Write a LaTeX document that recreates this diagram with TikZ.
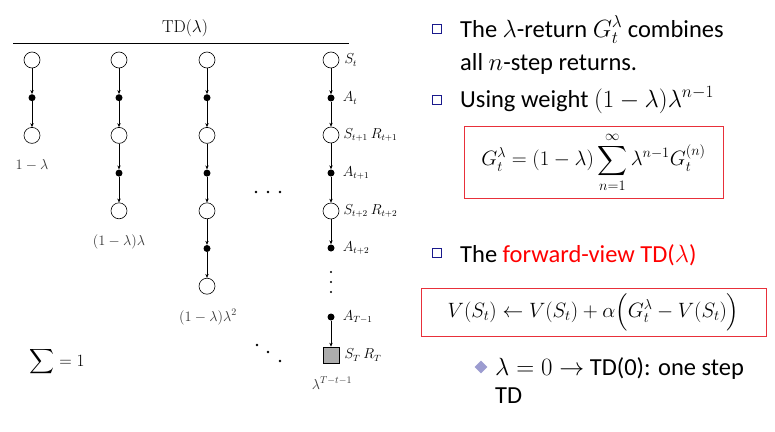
\documentclass[tikz,border=0pt]{standalone}
\usepackage{amsmath}
\usepackage[no-math]{fontspec}
\setmainfont{Carlito}
\usepackage{tikz}
\usetikzlibrary{arrows.meta,positioning,shapes.geometric}
\definecolor{navyblue}{HTML}{1A1A8C}
\definecolor{lavender}{HTML}{9C9CD0}
\definecolor{boxred}{HTML}{E8303A}

\begin{document}
\begin{tikzpicture}[x=1pt,y=-1pt,
		state/.style={circle,draw,fill=white,minimum size=16pt,inner sep=0pt,line width=0.6pt},
		act/.style={circle,fill=black,minimum size=7pt,inner sep=0pt},
		term/.style={rectangle,draw,fill=gray!65,minimum size=16pt,inner sep=0pt,line width=0.6pt},
		pt/.style={circle,fill=black,minimum size=2.6pt,inner sep=0pt},
		edge/.style={-{Stealth[length=4pt,width=3.4pt]},line width=0.6pt},
		lbl/.style={font=\fontsize{13.5}{15}\selectfont,inner sep=1pt},
		wgt/.style={font=\fontsize{14}{16}\selectfont,text=black!80},
		txt/.style={font=\fontsize{24.5}{28}\selectfont,anchor=base west,inner sep=0pt},
		sqbul/.style={rectangle,draw=navyblue,line width=1.4pt,minimum size=8.5pt,inner sep=0pt},
		dmbul/.style={diamond,fill=lavender,minimum size=13pt,inner sep=0pt},
		eqbox/.style={draw=boxred,line width=0.8pt,inner sep=0pt},
		]
		\useasboundingbox (0,0) rectangle (775,431);

		% backup diagram
		\node[font=\fontsize{17.5}{20}\selectfont](ttl) at (185,28) {$\mathrm{TD}(\lambda)$};
		\draw[line width=0.7pt] (13,43) -- (349,43);

		\foreach \c/\x/\n in {1/32/2,2/119/4,3/207/6}{
			\foreach \k in {0,...,\n}{
				\pgfmathsetmacro\yy{60+37.7*\k}
				\ifodd\k \node[act](c\c-\k) at (\x,\yy) {}; \else \node[state](c\c-\k) at (\x,\yy) {}; \fi
			}
			\foreach \k [evaluate=\k as \j using int(\k-1)] in {1,...,\n}
				\draw[edge] (c\c-\j) -- (c\c-\k);
		}

		\node[state](s0) at (331,60) {};
		\node[act  ](a0) at (331,98) {};
		\node[state](s1) at (331,135) {};
		\node[act  ](a1) at (331,173) {};
		\node[state](s2) at (331,211) {};
		\node[act  ](a2) at (331,248) {};
		\node[act  ](aT) at (331,317) {};
		\node[term ](sT) at (331,355) {};
		\draw[edge] (s0) -- (a0);
		\draw[edge] (a0) -- (s1);
		\draw[edge] (s1) -- (a1);
		\draw[edge] (a1) -- (s2);
		\draw[edge] (s2) -- (a2);
		\draw[edge] (aT) -- (sT);

		\node[lbl,right=4pt of s0](ls0) {$S_t$};
		\node[lbl,right=7pt of a0](la0) {$A_t$};
		\node[lbl,right=3pt of s1](ls1) {$S_{t+1}\ R_{t+1}$};
		\node[lbl,right=7pt of a1](la1) {$A_{t+1}$};
		\node[lbl,right=3pt of s2](ls2) {$S_{t+2}\ R_{t+2}$};
		\node[lbl,right=7pt of a2](la2) {$A_{t+2}$};
		\node[lbl,right=7pt of aT](laT) {$A_{T-1}$};
		\node[lbl,right=4pt of sT](lsT) {$S_T\ R_T$};

		\node[wgt](w1) at (32,165) {$1-\lambda$};
		\node[wgt](w2) at (119,242) {$(1-\lambda)\lambda$};
		\node[wgt](w3) at (208,317) {$(1-\lambda)\lambda^2$};
		\node[wgt](w4) at (332,383) {$\lambda^{T-t-1}$};

		\foreach \i/\x in {1/256,2/268,3/280} \node[pt](h\i) at (\x,192) {};
		\foreach \i/\x/\y in {1/257/345,2/268/352,3/280/361} \node[pt](d\i) at (\x,\y) {};
		\foreach \i/\y in {1/272,2/282,3/292} \node[pt,minimum size=2.2pt](v\i) at (331,\y) {};

		\node[font=\fontsize{19}{21}\selectfont](sum) at (57,362) {$\displaystyle\sum = 1$};

		% slide text
		\node[sqbul](b1) at (437,29) {};
		\node[txt](t1) at (460,37) {The $\lambda$-return $G_t^\lambda$ combines};
		\node[txt](t2) at (460,70) {all $n$-step returns.};
		\node[sqbul](b2) at (437,100) {};
		\node[txt](t3) at (460,107) {Using weight $(1-\lambda)\lambda^{n-1}$};
		\node[eqbox,minimum width=259pt,minimum height=72pt,font=\fontsize{20.5}{24}\selectfont](e1) at (593.5,162)
			{$\displaystyle G_t^\lambda = (1-\lambda)\sum_{n=1}^{\infty}\lambda^{n-1}G_t^{(n)}$};
		\node[sqbul](b3) at (437,253) {};
		\node[txt](t4) at (460,262) {The \textcolor{red}{forward-view TD($\lambda$)}};
		\node[eqbox,minimum width=345pt,minimum height=48pt,font=\fontsize{22.3}{25}\selectfont](e2) at (593.5,312)
			{$V(S_t) \leftarrow V(S_t) + \alpha\Bigl(G_t^\lambda - V(S_t)\Bigr)$};
		\node[dmbul](b4) at (481,367) {};
		\node[txt](t5) at (495,375) {$\lambda = 0 \rightarrow$ TD(0): one step};
		\node[txt](t6) at (495,403) {TD};
	\end{tikzpicture}
\end{document}
